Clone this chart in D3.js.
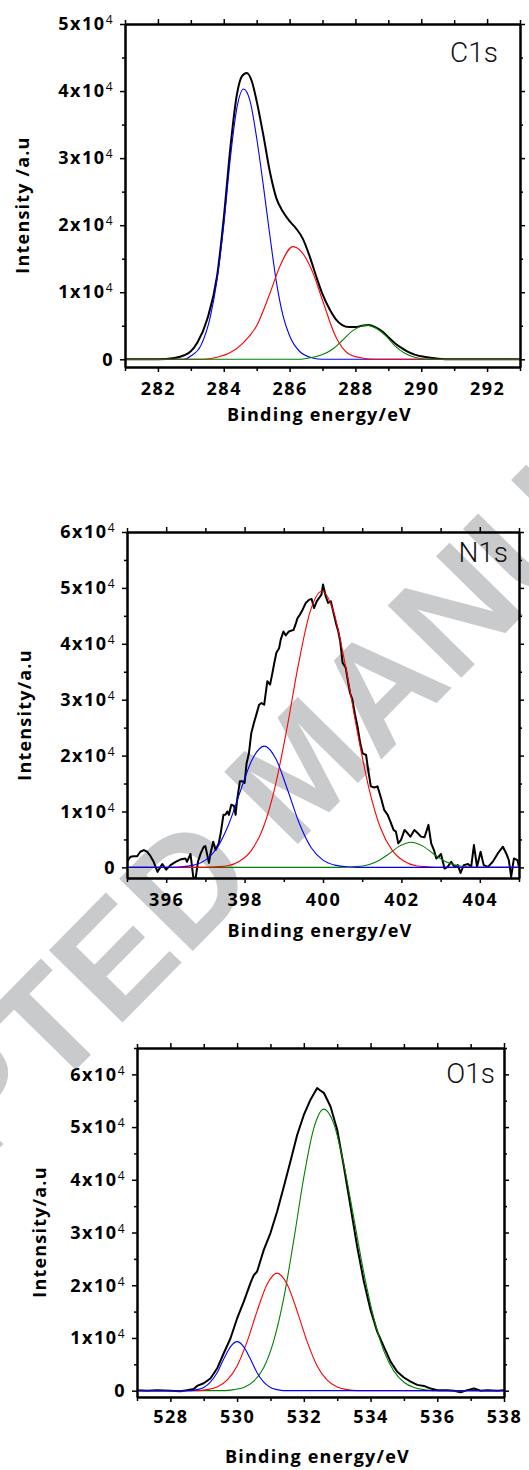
<!DOCTYPE html>
<meta charset="utf-8">
<style>
body { margin: 0; background: #fff; }
svg { display: block; }
.axis text, .ylab, .xlab {
  font-family: "Open Sans", sans-serif;
  font-weight: bold;
  fill: #000;
}
.axis text { font-size: 18px; letter-spacing: 1.5px; }
.ylab, .xlab { font-size: 18px; letter-spacing: 1.2px; }
.core { font-family: Roboto, sans-serif; font-weight: 300; font-size: 28px; fill: #111; }
.axis path, .axis line { stroke: #000; }
.axis path { stroke-width: 2px; }
.axis line { stroke-width: 1.5px; }
</style>
<svg width="529" height="1470"></svg>
<script src="https://d3js.org/d3.v7.min.js"></script>
<script>

// intensity values are in units of 10^4 counts, energy in eV

/************* C1s ***************/
var c1sEnvelope = [[281,0],[282,0],[282.5,0.02],[282.8,0.06],[283,0.12],[283.2,0.25],[283.5,0.6],[283.8,1.25],
  [284,2.1],[284.2,3.15],[284.4,3.95],[284.55,4.22],[284.7,4.27],[284.85,4.15],[285,3.85],[285.2,3.35],
  [285.4,2.8],[285.6,2.4],[285.8,2.2],[286,2.06],[286.2,1.95],[286.4,1.8],[286.6,1.55],[286.8,1.25],
  [287,0.97],[287.2,0.76],[287.4,0.6],[287.6,0.51],[287.8,0.48],[288,0.48],[288.2,0.5],[288.4,0.51],
  [288.6,0.48],[288.8,0.42],[289,0.33],[289.2,0.24],[289.4,0.17],[289.6,0.11],[289.8,0.07],[290,0.045],
  [290.4,0.015],[290.8,0],[293,0]];
var c1sPeakBlue = [[281,0],[282.8,0],[283,0.05],[283.3,0.2],[283.6,0.65],[283.8,1.2],[284,2.0],[284.2,3.0],
  [284.4,3.75],[284.6,4.03],[284.8,3.85],[285,3.3],[285.2,2.6],[285.4,1.85],[285.6,1.15],[285.8,0.65],
  [286,0.35],[286.3,0.12],[286.7,0.02],[287,0],[293,0]];
var c1sPeakRed = [[281,0],[283.4,0],[283.8,0.03],[284.2,0.1],[284.6,0.25],[285,0.5],[285.4,0.98],[285.7,1.38],
  [286.1,1.68],[286.4,1.58],[286.7,1.3],[287,0.88],[287.4,0.34],[287.8,0.08],[288.2,0.02],[288.6,0],[293,0]];
var c1sPeakGreen = [[281,0],[286.3,0],[286.7,0.03],[287,0.07],[287.3,0.15],[287.6,0.28],[287.9,0.42],
  [288.15,0.49],[288.35,0.51],[288.6,0.47],[288.9,0.36],[289.2,0.2],[289.5,0.09],[289.8,0.03],[290.2,0],[293,0]];
var c1sMajorX = [282, 284, 286, 288, 290, 292];
var c1sMinorX = [281, 283, 285, 287, 289, 291, 293];
var c1sMajorY = [0, 1, 2, 3, 4, 5];
var c1sMinorY = [0.5, 1.5, 2.5, 3.5, 4.5];

/************* N1s ***************/
var n1sEnvelope = [[395.00,0.10],[395.09,0.19],[395.17,0.20],[395.26,0.20],[395.34,0.28],[395.43,0.31],[395.51,0.28],
  [395.60,0.20],[395.68,0.10],[395.78,-0.08],[395.90,0.06],[396.00,-0.04],[396.11,0.04],[396.24,0.10],[396.36,0.14],
  [396.49,0.16],[396.53,0.10],[396.62,0.24],[396.69,-0.17],[396.75,-0.20],[396.81,0.10],[396.88,0.25],[396.96,0.37],
  [397.00,0.38],[397.09,0.08],[397.13,0.25],[397.20,0.46],[397.26,0.31],[397.34,0.43],[397.39,0.61],[397.46,0.94],
  [397.51,0.94],[397.56,1.00],[397.60,0.94],[397.66,1.12],[397.73,1.10],[397.77,0.94],[397.81,1.21],[397.88,1.54],
  [397.94,1.54],[398.00,1.51],[398.05,1.86],[398.11,2.04],[398.17,2.40],[398.24,2.59],[398.31,2.76],[398.37,2.91],
  [398.43,2.94],[398.50,2.91],[398.54,3.12],[398.58,3.33],[398.65,3.27],[398.71,3.48],[398.75,3.63],[398.81,3.84],
  [398.88,3.92],[398.92,4.07],[398.99,4.22],[399.05,4.15],[399.13,4.22],[399.25,4.25],[399.31,4.37],[399.35,4.46],
  [399.41,4.52],[399.48,4.61],[399.56,4.73],[399.65,4.79],[399.71,4.80],[399.77,4.64],[399.84,4.76],[399.90,4.82],
  [399.96,4.88],[400.00,5.06],[400.07,4.85],[400.13,4.73],[400.20,4.76],[400.27,4.55],[400.33,4.37],[400.39,4.22],
  [400.44,4.04],[400.50,3.66],[400.58,3.57],[400.63,3.36],[400.69,3.12],[400.75,3.00],[400.81,2.76],[400.88,2.52],
  [400.95,2.22],[401.01,2.04],[401.10,2.01],[401.14,1.80],[401.22,1.45],[401.31,1.43],[401.39,1.45],[401.48,1.24],
  [401.56,1.03],[401.65,0.94],[401.72,0.82],[401.80,0.67],[401.86,0.64],[401.92,0.43],[401.99,0.49],[402.08,0.67],
  [402.16,0.61],[402.23,0.55],[402.33,0.67],[402.42,0.61],[402.50,0.55],[402.59,0.54],[402.69,0.76],[402.76,0.43],
  [402.83,0.31],[402.89,0.16],[402.95,0.19],[403.01,0.24],[403.10,-0.02],[403.18,0.01],[403.27,0.10],[403.35,0.01],
  [403.44,0.04],[403.51,-0.10],[403.59,0.04],[403.70,0.06],[403.78,0.01],[403.85,0.40],[403.93,0.01],[404.02,0.28],
  [404.10,0.04],[404.21,0.01],[404.33,0.10],[404.46,0.25],[404.59,0.37],[404.68,0.24],[404.74,0.13],[404.80,-0.17],
  [404.87,0.16],[404.96,0.13],[405.00,0.01]];
var n1sPeakBlue = [[395,0],[396.1,0],[396.4,0.01],[396.7,0.04],[397,0.13],[397.3,0.35],[397.6,0.78],[397.9,1.38],
  [398.2,1.94],[398.5,2.17],[398.8,1.94],[399.1,1.38],[399.4,0.78],[399.7,0.35],[400,0.13],[400.3,0.04],
  [400.6,0.01],[400.9,0],[405,0]];
var n1sPeakRed = [[395,0],[396.9,0],[397.27,0.01],[397.57,0.03],[397.87,0.11],[398.17,0.3],[398.47,0.7],[398.77,1.42],
  [399.07,2.45],[399.37,3.62],[399.67,4.57],[399.97,4.94],[400.27,4.57],[400.57,3.62],[400.87,2.45],[401.17,1.42],
  [401.47,0.7],[401.77,0.3],[402.07,0.11],[402.37,0.03],[402.67,0.01],[403,0],[405,0]];
var n1sPeakGreen = [[395,0],[400.4,0],[400.75,0.01],[401.05,0.03],[401.35,0.095],[401.65,0.225],[401.95,0.38],
  [402.25,0.45],[402.55,0.38],[402.85,0.225],[403.15,0.095],[403.45,0.03],[403.75,0.006],[404.1,0],[405,0]];
var n1sMajorX = [396, 398, 400, 402, 404];
var n1sMinorX = [395, 397, 399, 401, 403, 405];
var n1sMajorY = [0, 1, 2, 3, 4, 5, 6];
var n1sMinorY = [0.5, 1.5, 2.5, 3.5, 4.5, 5.5];

/************* O1s ***************/
var o1sEnvelope = [[527,0.01],[527.3,0],[527.6,0.01],[528,0],[528.3,-0.01],[528.5,0.01],[528.7,0.03],[528.8,0.09],
  [529,0.14],[529.2,0.23],[529.4,0.42],[529.6,0.71],[529.8,0.99],[530,1.37],[530.2,1.69],[530.4,2.04],
  [530.5,2.19],[530.6,2.26],[530.8,2.67],[531,2.99],[531.2,3.4],[531.4,3.87],[531.6,4.35],[531.8,4.85],
  [532,5.23],[532.2,5.52],[532.4,5.74],[532.5,5.69],[532.6,5.65],[532.8,5.39],[533,4.95],[533.2,4.25],
  [533.4,3.49],[533.6,2.73],[533.8,2.07],[534,1.53],[534.2,1.12],[534.4,0.83],[534.6,0.55],[534.8,0.36],
  [535,0.25],[535.2,0.17],[535.4,0.11],[535.6,0.09],[535.8,0.04],[536,0.01],[536.3,0.01],[536.5,0],
  [536.7,-0.03],[536.9,0.01],[537.1,0.04],[537.3,0],[537.5,0.01],[537.8,0],[538,0.01]];
var o1sPeakBlue = [[527,0],[528.6,0],[528.8,0.02],[529,0.06],[529.2,0.16],[529.4,0.34],[529.6,0.6],[529.8,0.83],
  [530,0.93],[530.2,0.83],[530.4,0.6],[530.6,0.34],[530.8,0.16],[531,0.06],[531.2,0.02],[531.4,0],[538,0]];
var o1sPeakRed = [[527,0],[528.8,0],[529.1,0.02],[529.4,0.07],[529.7,0.2],[530,0.47],[530.3,0.93],[530.6,1.51],
  [530.9,2.02],[531.2,2.23],[531.5,2.02],[531.8,1.51],[532.1,0.93],[532.4,0.47],[532.7,0.2],[533,0.07],
  [533.3,0.02],[533.6,0],[538,0]];
var o1sPeakGreen = [[527,0],[529.6,0],[529.9,0.02],[530.2,0.06],[530.5,0.18],[530.8,0.44],[531.1,0.95],[531.4,1.76],
  [531.7,2.86],[532,4.05],[532.3,4.98],[532.6,5.34],[532.9,5.06],[533.2,4.29],[533.5,3.27],[533.8,2.23],
  [534.1,1.37],[534.4,0.75],[534.7,0.37],[535,0.16],[535.3,0.06],[535.6,0.02],[535.9,0],[538,0]];
var o1sMajorX = [528, 530, 532, 534, 536, 538];
var o1sMinorX = [527, 529, 531, 533, 535, 537];
var o1sMajorY = [0, 1, 2, 3, 4, 5, 6];
var o1sMinorY = [0.5, 1.5, 2.5, 3.5, 4.5, 5.5, 6.5];

var svg = d3.select("svg");

/************* WATERMARK (under everything) ***************/
svg.append("text")
    .attr("transform", "translate(299,766) rotate(-45.5)")
    .attr("text-anchor", "middle")
    .attr("dy", "0.36em")
    .style("font-family", "'Liberation Sans', Arial, sans-serif")
    .style("font-weight", "bold")
    .style("font-size", "150px")
    .attr("fill", "#c9cacc")
    .text("ACCEPTED MANUSCRIPT");

var panels = [
  { core: "C1s", ytitle: "Intensity /a.u",
    left: 125, top: 24, right: 520, bottom: 367,
    xDomain: [281, 293], yDomain: [-0.115, 5],
    envelope: c1sEnvelope,
    peaks: [[c1sPeakBlue, "#0000ff"], [c1sPeakRed, "#ff0000"], [c1sPeakGreen, "#008000"]],
    smooth: true,
    majorX: c1sMajorX, minorX: c1sMinorX, majorY: c1sMajorY, minorY: c1sMinorY,
    coreX: 498, coreY: 62, ytitleX: 23, ytitleY: 205, xtitleY: 421, xlabOffset: 28 },
  { core: "N1s", ytitle: "Intensity/a.u",
    left: 127, top: 532, right: 519, bottom: 878,
    xDomain: [395, 405], yDomain: [-0.19, 6],
    envelope: n1sEnvelope,
    peaks: [[n1sPeakGreen, "#008000"], [n1sPeakRed, "#ff0000"], [n1sPeakBlue, "#0000ff"]],
    smooth: false,
    majorX: n1sMajorX, minorX: n1sMinorX, majorY: n1sMajorY, minorY: n1sMinorY,
    coreX: 508, coreY: 562, ytitleX: 25, ytitleY: 715, xtitleY: 937, xlabOffset: 28 },
  { core: "O1s", ytitle: "Intensity/a.u",
    left: 137, top: 1048, right: 504, bottom: 1397,
    xDomain: [527, 538], yDomain: [-0.12, 6.5],
    envelope: o1sEnvelope,
    peaks: [[o1sPeakGreen, "#008000"], [o1sPeakRed, "#ff0000"], [o1sPeakBlue, "#0000ff"]],
    smooth: false,
    majorX: o1sMajorX, minorX: o1sMinorX, majorY: o1sMajorY, minorY: o1sMinorY,
    coreX: 495, coreY: 1083, ytitleX: 40, ytitleY: 1232, xtitleY: 1463, xlabOffset: 26 }
];

panels.forEach(drawPanel);

function drawPanel(p) {
  var x = d3.scaleLinear().domain(p.xDomain).range([p.left, p.right]);
  var y = d3.scaleLinear().domain(p.yDomain).range([p.bottom, p.top]);
  var g = svg.append("g");

  var clipId = "clip-" + p.core;
  g.append("clipPath").attr("id", clipId)
    .append("rect")
      .attr("x", p.left).attr("y", p.top)
      .attr("width", p.right - p.left).attr("height", p.bottom - p.top);

  var plot = g.append("g").attr("clip-path", "url(#" + clipId + ")");

  var smoothLine = d3.line()
      .x(function(d) { return x(d[0]); })
      .y(function(d) { return y(d[1]); })
      .curve(d3.curveMonotoneX);
  var rawLine = d3.line()
      .x(function(d) { return x(d[0]); })
      .y(function(d) { return y(d[1]); });

  plot.append("path")
      .attr("d", (p.smooth ? smoothLine : rawLine)(p.envelope))
      .attr("fill", "none")
      .attr("stroke", "#000")
      .attr("stroke-width", 2)
      .attr("stroke-linejoin", "round");

  p.peaks.forEach(function(pk) {
    plot.append("path")
        .attr("d", smoothLine(pk[0]))
        .attr("fill", "none")
        .attr("stroke", pk[1])
        .attr("stroke-width", 1.1);
  });

  /************* AXES ***************/
  // minor ticks first, majors on top
  g.append("g").attr("class", "axis")
      .attr("transform", "translate(0," + p.bottom + ")")
      .call(d3.axisBottom(x).tickValues(p.minorX).tickSize(4).tickSizeOuter(0).tickFormat(""));
  g.append("g").attr("class", "axis")
      .attr("transform", "translate(0," + p.top + ")")
      .call(d3.axisTop(x).tickValues(p.minorX).tickSize(4).tickSizeOuter(0).tickFormat(""));
  g.append("g").attr("class", "axis")
      .attr("transform", "translate(" + p.left + ",0)")
      .call(d3.axisLeft(y).tickValues(p.minorY).tickSize(3).tickSizeOuter(0).tickFormat(""));
  g.append("g").attr("class", "axis")
      .attr("transform", "translate(" + p.right + ",0)")
      .call(d3.axisRight(y).tickValues(p.minorY).tickSize(3).tickSizeOuter(0).tickFormat(""));

  g.append("g").attr("class", "axis")
      .attr("transform", "translate(0," + p.bottom + ")")
      .call(d3.axisBottom(x).tickValues(p.majorX).tickSize(5).tickSizeOuter(0).tickPadding(p.xlabOffset - 18))
    .selectAll("text")
      .attr("dy", "0.71em");
  g.append("g").attr("class", "axis")
      .attr("transform", "translate(0," + p.top + ")")
      .call(d3.axisTop(x).tickValues(p.majorX).tickSize(5).tickSizeOuter(0).tickFormat(""));
  g.append("g").attr("class", "axis")
      .attr("transform", "translate(" + p.right + ",0)")
      .call(d3.axisRight(y).tickValues(p.majorY).tickSize(5).tickSizeOuter(0).tickFormat(""));

  var yAxis = g.append("g").attr("class", "axis")
      .attr("transform", "translate(" + p.left + ",0)")
      .call(d3.axisLeft(y).tickValues(p.majorY).tickSize(5).tickSizeOuter(0).tickPadding(6));
  yAxis.selectAll("text").each(function(d) {
    var t = d3.select(this).text(null);
    if (d === 0) { t.text("0"); return; }
    t.append("tspan").text(d + "x10");
    t.append("tspan").attr("dy", "-0.5em").style("font-size", "12px").style("font-weight", "normal").text("4");
  });

  /************* LABELS ***************/
  g.append("text").attr("class", "core")
      .attr("x", p.coreX).attr("y", p.coreY)
      .attr("text-anchor", "end")
      .text(p.core);

  g.append("text").attr("class", "xlab")
      .attr("x", (p.left + p.right) / 2 - 3).attr("y", p.xtitleY)
      .attr("text-anchor", "middle")
      .text("Binding energy/eV");

  g.append("text").attr("class", "ylab")
      .attr("transform", "translate(" + p.ytitleX + "," + p.ytitleY + ") rotate(-90)")
      .attr("text-anchor", "middle")
      .attr("dy", "0.35em")
      .text(p.ytitle);
}

</script>
